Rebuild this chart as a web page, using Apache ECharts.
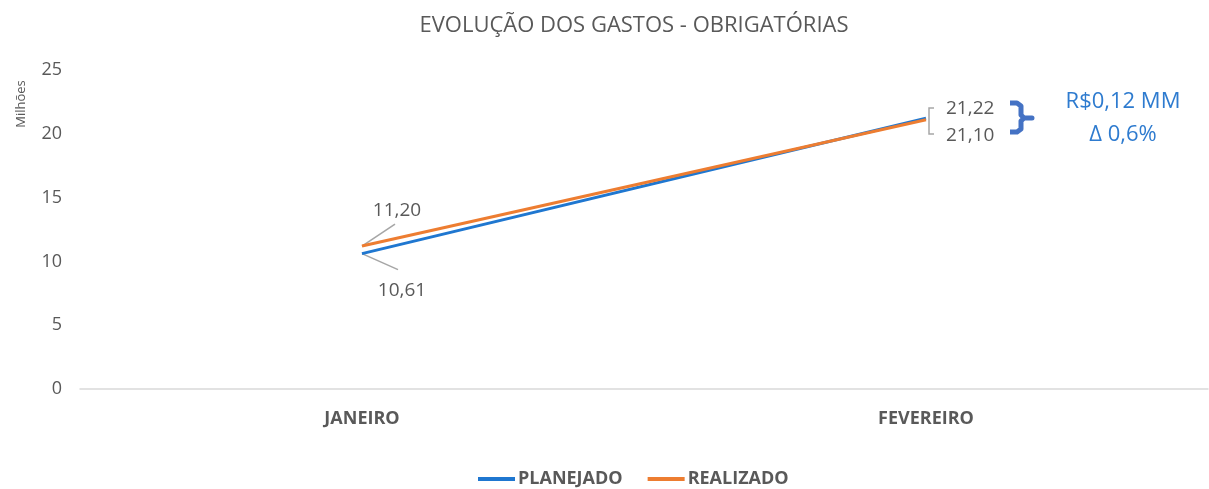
<!DOCTYPE html>
<html>
<head>
<meta charset="utf-8">
<script src="https://cdn.jsdelivr.net/npm/echarts@6/dist/echarts.min.js"></script>
<style>
  html, body { margin: 0; padding: 0; background: #fff; overflow: hidden; }
  #chart { width: 1209px; height: 489px; }
</style>
</head>
<body>
<div id="chart"></div>
<script>
var months = ["JANEIRO", "FEVEREIRO"];
var planejado = [10.61, 21.22];
var realizado = [11.20, 21.10];
var yTicks = [0, 5, 10, 15, 20, 25];
var deltaText = ["R$0,12 MM", "Δ 0,6%"];

var grey = "#595959";
var leaderGrey = "#A6A6A6";
var font = "Open Sans";

function fmt(v) {
  return v.toFixed(2).replace(".", ",");
}

// label offsets: janeiro labels get leader lines, fevereiro ones sit beside the bracket
var planOffsets = [{ dx: 40, dy: 22 }, { dx: 15, dy: -10 }];
var realOffsets = [{ dx: 35, dy: -21 }, { dx: 15, dy: 16 }];
// where the leader lines end, relative to the janeiro points
var planLeader = [36, 16];
var realLeader = [33, -22];

function makeData(values, positions) {
  return values.map(function (v, i) {
    return { value: v, label: { position: positions[i] } };
  });
}

var chart = echarts.init(document.getElementById("chart"));

function lineSeries(name, values, color, positions, offsets) {
  return {
    name: name,
    type: "line",
    symbol: "circle",
    symbolSize: 0,
    lineStyle: { width: 3, color: color },
    itemStyle: { color: color },
    label: {
      show: true,
      color: grey,
      fontSize: 19,
      fontFamily: font,
      formatter: function (p) { return fmt(p.value); }
    },
    labelLayout: function (p) { return offsets[p.dataIndex]; },
    data: makeData(values, positions)
  };
}

var planSeries = lineSeries("PLANEJADO", planejado, "#1F77D0", ["bottom", "right"], planOffsets);
var realSeries = lineSeries("REALIZADO", realizado, "#ED7D31", ["top", "right"], realOffsets);

var option = {
  animation: false,
  title: {
    text: "EVOLUÇÃO DOS GASTOS - OBRIGATÓRIAS",
    left: 629,
    top: 10,
    textAlign: "center",
    textStyle: { color: grey, fontSize: 22, fontWeight: "normal", fontFamily: font }
  },
  legend: {
    left: 478,
    bottom: 1,
    padding: 0,
    icon: "rect",
    itemWidth: 37,
    itemHeight: 4,
    itemGap: 25,
    textStyle: { color: grey, fontSize: 18, fontWeight: "bold", fontFamily: font, padding: [0, 0, 0, -2] },
    data: ["PLANEJADO", "REALIZADO"]
  },
  grid: { left: 80, right: 1, top: 70, bottom: 100 },
  xAxis: {
    type: "category",
    data: months,
    axisLine: { lineStyle: { color: "#D9D9D9", width: 1.5 } },
    axisTick: { show: false },
    axisLabel: { color: grey, fontSize: 18, fontWeight: "bold", fontFamily: font, margin: 21 }
  },
  yAxis: {
    type: "value",
    min: yTicks[0],
    max: yTicks[yTicks.length - 1],
    interval: yTicks[1] - yTicks[0],
    splitLine: { show: false },
    axisLine: { show: false },
    axisTick: { show: false },
    axisLabel: { color: grey, fontSize: 18, fontFamily: font, margin: 18 }
  },
  series: [planSeries, realSeries],
  graphic: [
    {
      type: "text",
      x: 21,
      y: 104,
      rotation: Math.PI / 2,
      style: { text: "Milhões", fill: grey, font: "13px " + font, textAlign: "center", textVerticalAlign: "middle" }
    },
    {
      type: "polyline",
      shape: { points: [[934, 108], [929, 108], [929, 134], [934, 134]] },
      style: { stroke: leaderGrey, lineWidth: 1.5, fill: null }
    },
    {
      // blue brace grouping the two february labels
      type: "polyline",
      shape: {
        points: [[1010, 103], [1017, 103], [1021, 106], [1021, 115], [1024, 118], [1032, 118],
                 [1024, 118], [1021, 121], [1021, 129], [1017, 132], [1010, 132]]
      },
      style: { stroke: "#4472C4", lineWidth: 5, fill: null, lineJoin: "round" }
    },
    {
      type: "text",
      x: 1123,
      y: 102,
      style: { text: deltaText[0], fill: "#2E7BCF", font: "22px " + font, textAlign: "center", textVerticalAlign: "middle" }
    },
    {
      type: "text",
      x: 1123,
      y: 135,
      style: { text: deltaText[1], fill: "#2E7BCF", font: "22px " + font, textAlign: "center", textVerticalAlign: "middle" }
    }
  ]
};

chart.setOption(option);

// leader lines for the janeiro labels, anchored on the data points
var pPlan = chart.convertToPixel({ seriesIndex: 0 }, [0, planejado[0]]);
var pReal = chart.convertToPixel({ seriesIndex: 1 }, [0, realizado[0]]);
chart.setOption({
  graphic: option.graphic.concat([
    {
      type: "line",
      shape: { x1: pPlan[0], y1: pPlan[1], x2: pPlan[0] + planLeader[0], y2: pPlan[1] + planLeader[1] },
      style: { stroke: leaderGrey, lineWidth: 1.5 }
    },
    {
      type: "line",
      shape: { x1: pReal[0], y1: pReal[1], x2: pReal[0] + realLeader[0], y2: pReal[1] + realLeader[1] },
      style: { stroke: leaderGrey, lineWidth: 1.5 }
    }
  ])
});
</script>
</body>
</html>
